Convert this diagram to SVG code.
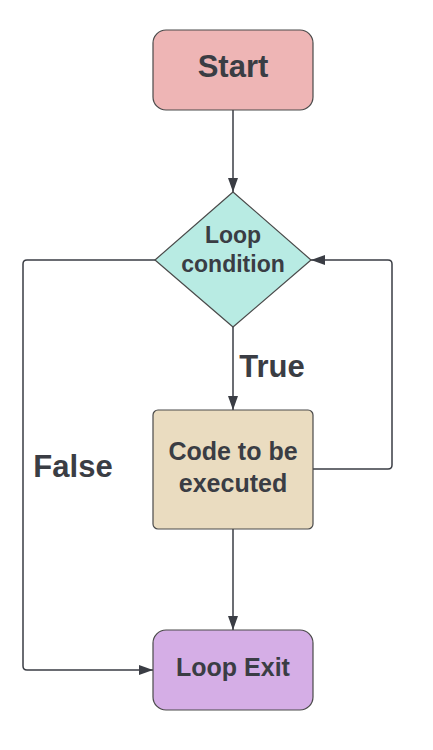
<svg xmlns="http://www.w3.org/2000/svg" width="433" height="750" viewBox="0 0 433 750">
<defs>
<marker id="ah" viewBox="0 0 14 10" refX="14" refY="5" markerWidth="14" markerHeight="10" markerUnits="userSpaceOnUse" orient="auto">
<path d="M0,0 L14,5 L0,10 z" fill="#3a3d44"/>
</marker>
</defs>
<style>
.n{stroke:#4a4a4a;stroke-width:1.2}
.t{font-family:"Liberation Sans",Arial,sans-serif;font-weight:bold;fill:#3a3d44;text-anchor:middle}
.c{fill:none;stroke:#3a3d44;stroke-width:1.5;marker-end:url(#ah)}
</style>
<rect width="433" height="750" fill="#ffffff"/>
<g id="connectors">
<path class="c" d="M233,110 V192"/>
<path class="c" d="M233,327 V410"/>
<path class="c" d="M233,529 V630"/>
<path class="c" d="M313,469 H388 Q392,469 392,465 V264 Q392,260 388,260 H311"/>
<path class="c" d="M155,260 H27 Q23,260 23,264 V666 Q23,670 27,670 H153"/>
<text class="t" x="272" y="377" font-size="31">True</text>
<text class="t" x="73" y="477" font-size="31">False</text>
</g>
<g id="start">
<rect class="n" x="153" y="30" width="160" height="80" rx="13" fill="#eeb5b5"/>
<text class="t" x="233" y="77" font-size="31">Start</text>
</g>
<g id="condition">
<path class="n" d="M233,192 L311,260 L233,327 L155,260 Z" stroke-linejoin="round" fill="#b8ebe3"/>
<text class="t" x="233" y="243" font-size="23">Loop</text>
<text class="t" x="233" y="272" font-size="23">condition</text>
</g>
<g id="code">
<rect class="n" x="153" y="410" width="160" height="119" rx="5" fill="#eadcc0"/>
<text class="t" x="233" y="460" font-size="25">Code to be</text>
<text class="t" x="233" y="492" font-size="25">executed</text>
</g>
<g id="exit">
<rect class="n" x="153" y="630" width="160" height="80" rx="13" fill="#d5aee6"/>
<text class="t" x="233" y="676" font-size="25">Loop Exit</text>
</g>
</svg>
